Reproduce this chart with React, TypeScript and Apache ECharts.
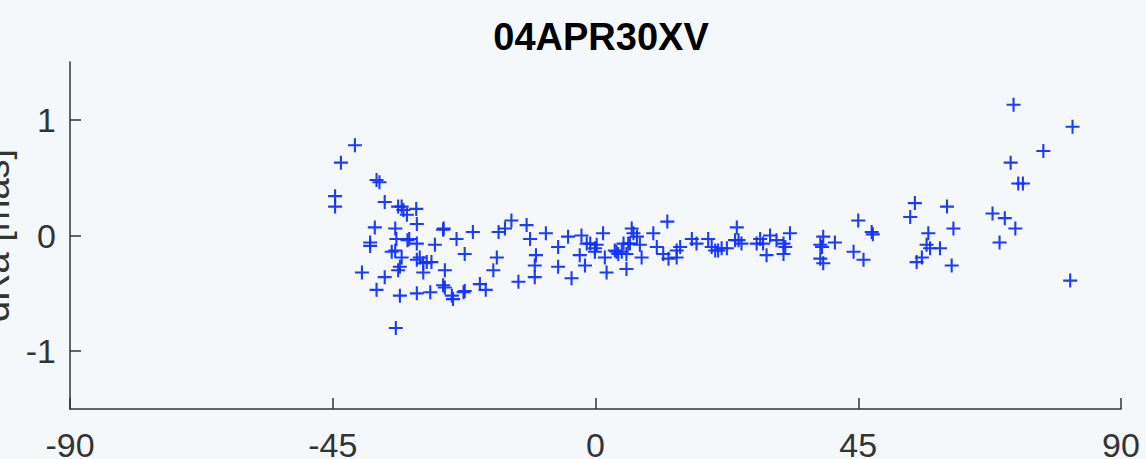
import React, { useEffect, useRef } from "react";
import * as echarts from "echarts";

// Declination (deg) and right-ascension residual dRa (mas) per observation
const declination: number[] = [
  -41.2, -43.6, -37.5, -37.0, -44.6, -44.6, -36.1, -33.8, -32.9, -32.3,
  -30.7, -33.2, -30.6, -37.8, -34.3, -38.6, -38.6, -34.1, -31.9, -30.6,
  -27.5, -34.3, -33.2, -30.1, -28.9, -28.1, -26.1, -25.8, -40.0, -36.1,
  -37.5, -33.5, -33.5, -30.6, -28.3, -29.5, -34.2, -25.8, -30.6, -33.8,
  -34.9, -32.2, -29.5, -26.0, -23.8, -21.0, -22.4, -24.6, -24.4, -22.4,
  -16.6, -15.5, -14.4, -11.8, -11.2, -8.5, -6.4, -4.7, -2.4, -1.5,
  -0.1, -2.7, -1.8, -16.9, -17.5, -10.2, -10.4, -10.4, -6.4, -4.1,
  -13.2, -19.8, -18.8, -26.1, -22.6, 1.3, 0.2, -0.9, 1.6, 1.9,
  6.2, 6.5, 5.9, 4.8, 5.3, 5.3, 7.1, 7.6, 7.9, 9.9,
  12.3, 10.5, 11.6, 12.5, 13.9, 14.5, 16.5, 17.3, 19.3, 19.9,
  21.0, 22.5, 24.2, 23.9, 25.0, 3.3, 3.9, -0.1, 3.6, 4.5,
  5.6, 13.9, 20.5, 21.6, 24.5, 27.6, 28.7, 29.9, 29.3, 32.2,
  32.2, 33.3, 28.2, 31.0, 32.5, 39.0, 38.5, 41.0, 38.5, 39.0,
  45.0, 47.3, 47.5, 44.2, 45.9, 38.8, 54.7, 53.9, 60.2, 61.3,
  57.0, 56.7, 57.3, 59.0, 55.9, 55.0, 61.0, 68.0, 71.6, 81.7,
  76.7, 71.1, 72.4, 73.2, 70.1, 71.9, 69.2, 81.3,
];

const dRa: number[] = [
  0.78, 0.63, 0.48, 0.46, 0.34, 0.25, 0.29, 0.25, 0.22, 0.18,
  0.23, 0.25, 0.10, 0.07, 0.06, -0.06, -0.09, -0.03, -0.03, -0.07,
  -0.08, -0.13, -0.19, -0.19, -0.23, -0.23, 0.05, -0.30, -0.32, -0.36,
  -0.47, -0.27, -0.52, -0.50, -0.49, -0.32, -0.80, -0.45, -0.21, -0.30,
  -0.14, -0.04, -0.24, 0.06, -0.03, 0.03, -0.16, -0.52, -0.55, -0.48,
  0.03, 0.06, 0.13, 0.09, -0.03, 0.02, -0.10, -0.01, 0.0, -0.07,
  -0.11, -0.17, -0.26, -0.19, -0.30, -0.17, -0.26, -0.36, -0.27, -0.37,
  -0.40, -0.42, -0.47, -0.43, -0.49, 0.02, -0.08, -0.07, -0.19, -0.32,
  0.06, 0.02, -0.07, -0.07, -0.16, -0.29, -0.01, -0.08, -0.19, 0.02,
  0.12, -0.10, -0.16, -0.20, -0.19, -0.10, -0.03, -0.07, -0.03, -0.10,
  -0.13, -0.11, 0.07, -0.04, -0.07, -0.13, -0.16, -0.14, -0.14, -0.14,
  -0.07, -0.13, -0.13, -0.11, -0.04, -0.07, -0.07, 0.0, -0.17, -0.07,
  -0.16, 0.02, -0.03, -0.04, -0.10, -0.01, -0.08, -0.06, -0.20, -0.24,
  0.13, 0.03, 0.01, -0.14, -0.21, -0.10, 0.28, 0.16, 0.25, 0.06,
  0.02, -0.08, -0.11, -0.11, -0.19, -0.23, -0.26, 0.19, 1.13, 0.94,
  0.73, 0.63, 0.45, 0.45, 0.15, 0.06, -0.06, -0.39,
];

const xTicks: number[] = [-90, -45, 0, 45, 90];
const yTicks: number[] = [-1, 0, 1];

const titleText = "04APR30XV";
const yName = "dRa [mas]";

// Plus-sign marker made of two thin filled bars
const PLUS =
  "path://M-1,-0.15 L1,-0.15 L1,0.15 L-1,0.15 Z M-0.15,-1 L0.15,-1 L0.15,1 L-0.15,1 Z";

export default function App() {
  const ref = useRef<HTMLDivElement>(null);

  useEffect(() => {
    if (!ref.current) return;
    const chart = echarts.init(ref.current, undefined, { renderer: "svg" });
    const axisColor = "#333333";
    const font = "'Liberation Sans', Arial, Helvetica, sans-serif";
    const points = declination.map((d, i) => [d, dRa[i]]);

    chart.setOption({
      animation: false,
      backgroundColor: "#f5f8fb",
      title: {
        text: titleText,
        left: 596,
        top: 13,
        textAlign: "center",
        textStyle: {
          fontFamily: font,
          fontWeight: "bold",
          fontSize: 38,
          color: "#000000",
        },
      },
      grid: {
        left: 70,
        right: 25,
        top: 62,
        bottom: 50,
        containLabel: false,
        outerBoundsMode: "none",
      },
      xAxis: {
        type: "value",
        min: -90,
        max: 90,
        interval: 45,
        splitLine: { show: false },
        axisLine: { show: true, onZero: false, lineStyle: { color: axisColor, width: 1.5 } },
        axisTick: {
          show: true,
          inside: true,
          length: 11,
          customValues: xTicks,
          lineStyle: { color: axisColor, width: 1.5 },
        },
        axisLabel: {
          customValues: xTicks,
          margin: 19,
          fontFamily: font,
          fontSize: 34,
          color: axisColor,
        },
      },
      yAxis: {
        type: "value",
        min: -1.5,
        max: 1.5,
        interval: 0.5,
        name: yName,
        nameLocation: "middle",
        nameGap: 55,
        nameTextStyle: { fontFamily: font, fontSize: 38, color: axisColor },
        splitLine: { show: false },
        axisLine: { show: true, onZero: false, lineStyle: { color: axisColor, width: 1.5 } },
        axisTick: {
          show: true,
          inside: true,
          length: 11,
          customValues: yTicks,
          lineStyle: { color: axisColor, width: 1.5 },
        },
        axisLabel: {
          customValues: yTicks,
          margin: 14,
          fontFamily: font,
          fontSize: 34,
          color: axisColor,
        },
      },
      series: [
        {
          type: "scatter",
          data: points,
          symbol: PLUS,
          symbolSize: 14,
          itemStyle: { color: "#1030ff", opacity: 0.95 },
          clip: false,
        },
      ],
    });

    return () => chart.dispose();
  }, []);

  return (
    <div
      ref={ref}
      style={{ position: "absolute", left: 0, top: 0, width: 1146, height: 459 }}
    />
  );
}
